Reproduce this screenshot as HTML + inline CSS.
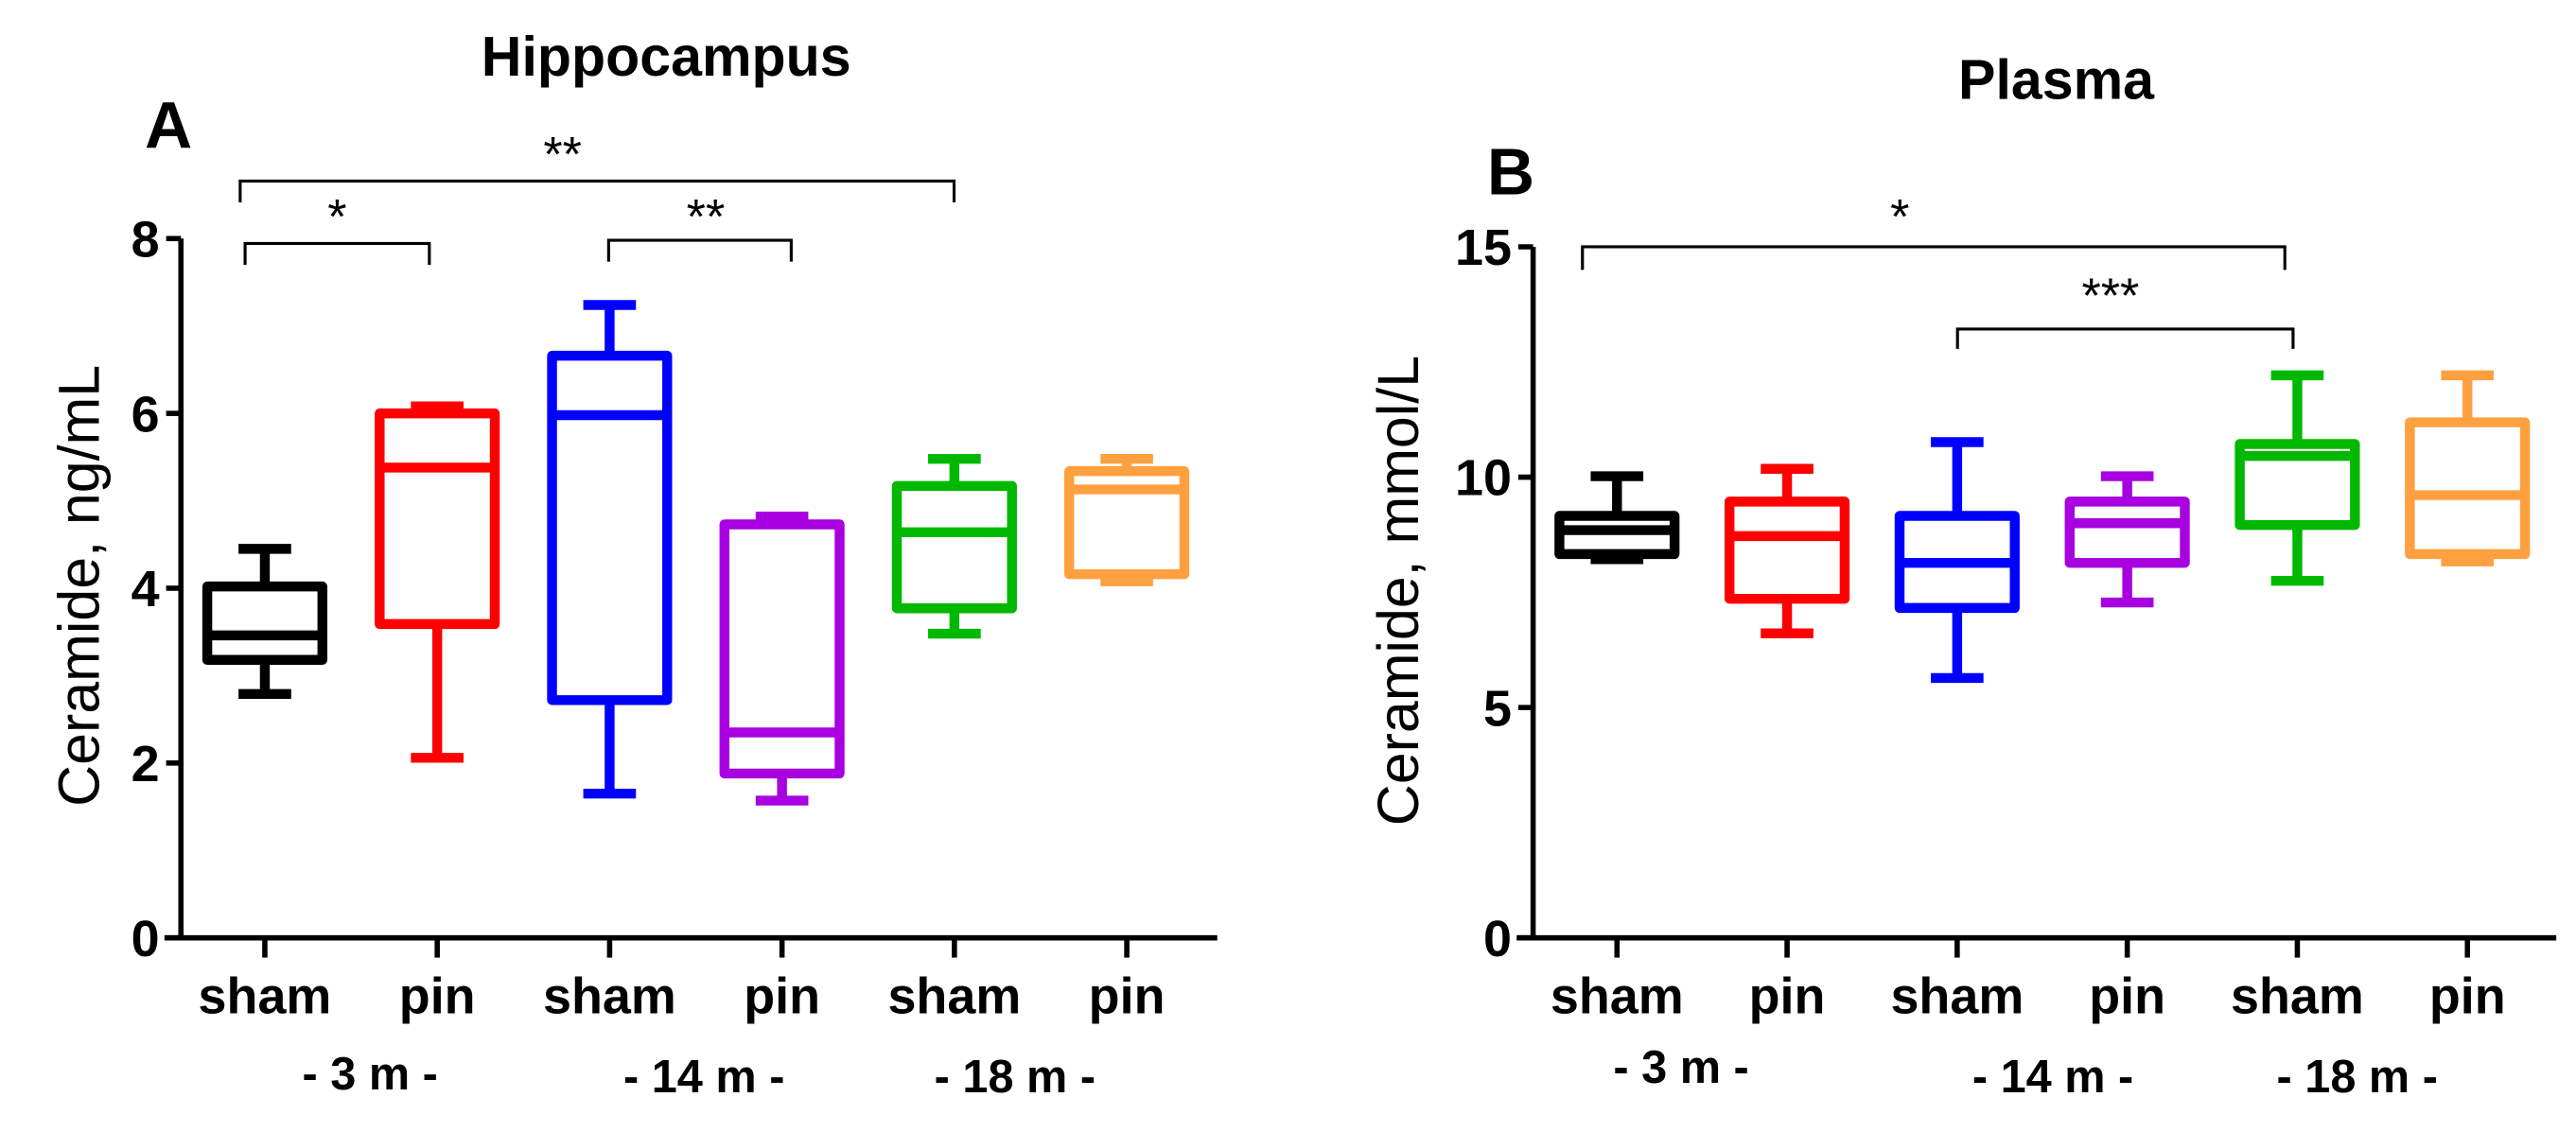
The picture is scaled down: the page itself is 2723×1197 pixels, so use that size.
<!DOCTYPE html>
<html><head><meta charset="utf-8"><style>
html,body{margin:0;padding:0;background:#fff;overflow:hidden}
svg{display:block;font-family:"Liberation Sans",Arial,sans-serif}
</style></head><body>
<svg id="fig" width="2723" height="1197" viewBox="0 0 1566 688" preserveAspectRatio="none" xmlns="http://www.w3.org/2000/svg"></svg>
<script>
const categories = ["sham","pin","sham","pin","sham","pin"];
const colors = ["#000000","#ff0000","#0000ff","#a800e0","#00b800","#ffa040"];
// [min, q1, median, q3, max]
const hippoValues = [
  [2.79,3.18,3.46,4.02,4.45],
  [2.06,3.59,5.38,6.0,6.08],
  [1.65,2.72,5.98,6.66,7.24],
  [1.57,1.88,2.35,4.73,4.82],
  [3.48,3.77,4.64,5.17,5.48],
  [4.08,4.16,5.13,5.34,5.48]
];
const plasmaValues = [
  [8.22,8.33,8.85,9.16,10.02],
  [6.61,7.36,8.72,9.47,10.18],
  [5.64,7.16,8.14,9.16,10.76],
  [7.28,8.14,9.0,9.47,10.02],
  [7.75,8.96,10.46,10.72,12.21],
  [8.17,8.33,9.61,11.19,12.21]
];
const hippoTicks = [0,2,4,6,8];
const plasmaTicks = [0,5,10,15];

const NS="http://www.w3.org/2000/svg";
const svg=document.getElementById('fig');
function mk(tag,attrs,parent){const e=document.createElementNS(NS,tag);for(const k in attrs)e.setAttribute(k,attrs[k]);(parent||svg).appendChild(e);return e;}
function txt(s,attrs,parent){const e=mk('text',attrs,parent);e.textContent=s;return e;}

function panel(cfg){
  const g=mk('g',{});
  
  
  const y=v=>cfg.y0-(v/cfg.max)*(cfg.y0-cfg.yTop);
  const x=i=>cfg.xs0+i*cfg.dx;
  const t=txt(cfg.title,{x:cfg.titleX,y:cfg.titleY,'text-anchor':'middle','font-size':34,'font-weight':'bold'},g);
  
  
  const L=txt(cfg.letter,{x:cfg.letterX,y:cfg.letterY,'font-size':40,'font-weight':'bold'},g);
  
  
  const ya=mk('line',{x1:cfg.ax,y1:y(cfg.max),x2:cfg.ax,y2:cfg.y0+1.5,stroke:'#000','stroke-width':3.2},g);
  
  
  const xa=mk('line',{x1:cfg.ax-10,y1:cfg.y0,x2:cfg.xEnd,y2:cfg.y0,stroke:'#000','stroke-width':3.2},g);
  
  
  cfg.ticks.forEach(v=>{
    const tk=mk('line',{x1:cfg.ax-9,y1:y(v),x2:cfg.ax,y2:y(v),stroke:'#000','stroke-width':3.2},g);
    
    
    const tl=txt(String(v),{x:cfg.ax-13,y:y(v)+11,'text-anchor':'end','font-size':31,'font-weight':'bold'},g);
    
    
  });
  const yt=txt(cfg.ytitle,{x:0,y:0,'text-anchor':'middle','font-size':35,transform:`translate(${cfg.ytX},${cfg.ytY}) rotate(-90)`},g);
  
  
  categories.forEach((c,i)=>{
    const tk=mk('line',{x1:x(i),y1:cfg.y0,x2:x(i),y2:cfg.y0+12,stroke:'#000','stroke-width':3.2},g);
    
    
    const tl=txt(c,{x:x(i),y:cfg.y0+46,'text-anchor':'middle','font-size':31,'font-weight':'bold'},g);
    
    
  });
  cfg.groups.forEach(gr=>{
    const gl=txt(gr[0],{x:gr[1],y:gr[2],'text-anchor':'middle','font-size':28,'font-weight':'bold','xml:space':'preserve'},g);
    
    
  });
  cfg.data.forEach((d,i)=>{
    const bg=mk('g',{stroke:colors[i],'stroke-width':6,fill:'none'},g);
    
    
    const cx=x(i),hw=cfg.hw,cw=16;
    mk('line',{x1:cx,y1:y(d[4]),x2:cx,y2:y(d[3])},bg);
    mk('line',{x1:cx,y1:y(d[1]),x2:cx,y2:y(d[0])},bg);
    mk('line',{x1:cx-cw,y1:y(d[4]),x2:cx+cw,y2:y(d[4])},bg);
    mk('line',{x1:cx-cw,y1:y(d[0]),x2:cx+cw,y2:y(d[0])},bg);
    mk('rect',{x:cx-hw,y:y(d[3]),width:2*hw,height:y(d[1])-y(d[3]),'stroke-linejoin':'round'},bg);
    mk('line',{x1:cx-hw,y1:y(d[2]),x2:cx+hw,y2:y(d[2])},bg);
  });
  cfg.brackets.forEach(b=>{
    const p=mk('path',{d:`M${b[0]},${b[3]} V${b[2]} H${b[1]} V${b[3]}`,stroke:'#000','stroke-width':1.8,fill:'none'},g);
    
    
    const s=txt(b[4],{x:b[5],y:b[6],'text-anchor':'middle','font-size':30},g);
    
    
  });
}

panel({name:'hippocampus-panel',title:'Hippocampus',titleX:405,titleY:46,letter:'A',letterX:88,letterY:90,
  ax:110,y0:570,yTop:145,max:8,xEnd:740,xs0:161,dx:104.8,hw:35,ticks:hippoTicks,data:hippoValues,
  ytitle:'Ceramide, ng/mL',ytX:60,ytY:356,
  groups:[['- 3 m -',225,662],['- 14 m -',428,664],['- 18 m -',617,664]],
  brackets:[[146,580,110,123,'**',342,104],[149,261,148,161,'*',205,142],[370,481,146,159,'**',429,142]]});
panel({name:'plasma-panel',title:'Plasma',titleX:1250,titleY:60,letter:'B',letterX:904,letterY:118,
  ax:932,y0:570,yTop:150,max:15,xEnd:1554,xs0:983,dx:103.4,hw:35,ticks:plasmaTicks,data:plasmaValues,
  ytitle:'Ceramide,  mmol/L',ytX:862,ytY:359,
  groups:[['- 3 m -',1022,658],['- 14 m -',1248,664],['- 18 m -',1433,664]],
  brackets:[[962,1389,150,164,'*',1155,142],[1190,1394,200,212,'***',1283,190]]});
</script>
</body></html>
